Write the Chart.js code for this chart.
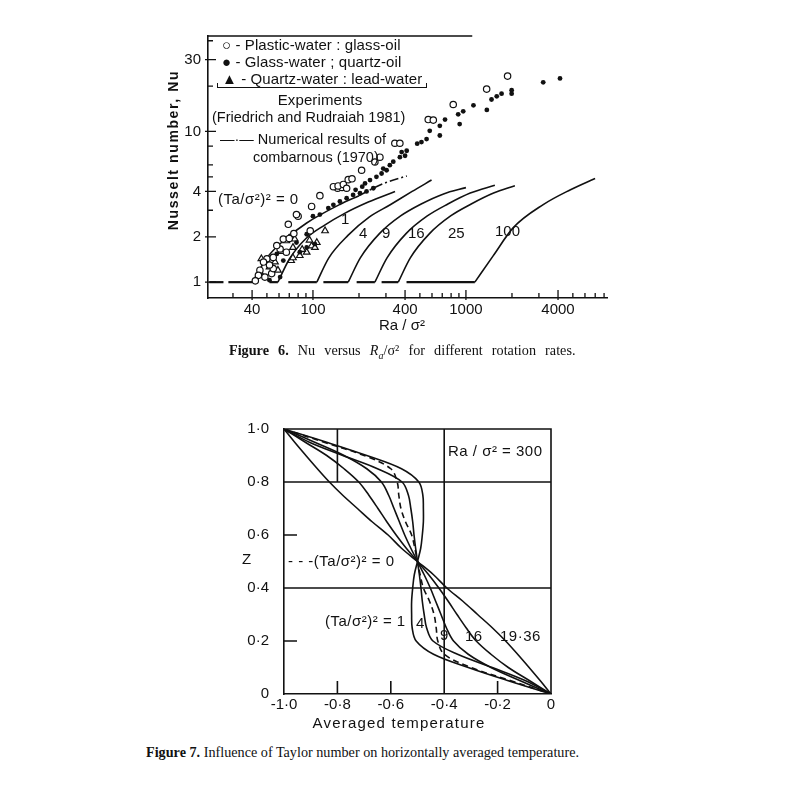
<!DOCTYPE html>
<html>
<head>
<meta charset="utf-8">
<script src="https://cdn.jsdelivr.net/npm/chart.js@4.4.0/dist/chart.umd.min.js"></script>
<style>
  body { margin: 0; width: 792px; height: 785px; background: #fff; position: relative; overflow: hidden; color: #111; font-family: "Liberation Sans", sans-serif; }
  canvas { position: absolute; }
  .t { position: absolute; white-space: nowrap; line-height: 1; font-size: 14px; transform: translateY(-50%); }
  .c { transform: translate(-50%, -50%); }
  .lg { font-size: 15px; letter-spacing: 0.1px; }
  .f7 { font-size: 15px; letter-spacing: 0.5px; }
  .cap { position: absolute; white-space: nowrap; font-family: "Liberation Serif", serif; font-size: 14.2px; line-height: 1; transform: translateY(-50%); }
</style>
</head>
<body>
<canvas id="fig6" width="490" height="320" style="left:130px;top:20px"></canvas>
<canvas id="fig7" width="360" height="330" style="left:230px;top:405px"></canvas>

<!-- Figure 6 texts -->
<div class="t lg" style="left:222px;top:44px">○ - Plastic-water : glass-oil</div>
<div class="t lg" style="left:222px;top:61px">● - Glass-water ; quartz-oil</div>
<div class="t lg" style="left:222px;top:78px">▲ - Quartz-water : lead-water</div>
<div style="position:absolute;left:217px;top:83px;width:208px;height:4px;border:1px solid #111;border-top:none"></div>
<div class="t c lg" style="left:320px;top:99px">Experiments</div>
<div class="t" style="left:212px;top:117px;font-size:14.5px">(Friedrich and Rudraiah 1981)</div>
<div class="t" style="left:220px;top:139px;font-size:14.5px">—·— Numerical results of</div>
<div class="t" style="left:253px;top:157px;font-size:14.5px">combarnous (1970)</div>
<div class="t" style="left:218px;top:198px;font-size:15px;letter-spacing:0.5px">(Ta/σ²)² = 0</div>
<div class="t" style="left:341px;top:218px;font-size:15px">1</div>
<div class="t" style="left:359px;top:232px;font-size:15px">4</div>
<div class="t" style="left:382px;top:232px;font-size:15px">9</div>
<div class="t" style="left:408px;top:232px;font-size:15px">16</div>
<div class="t" style="left:448px;top:232px;font-size:15px">25</div>
<div class="t" style="left:495px;top:230px;font-size:15px">100</div>
<div class="t c" style="left:173px;top:150px;transform:translate(-50%,-50%) rotate(-90deg);font-weight:bold;font-size:14px;letter-spacing:1.6px">Nusselt number, Nu</div>
<div class="t c" style="left:402px;top:324px;font-size:15px">Ra / σ²</div>
<div class="cap" style="left:229px;top:352px;word-spacing:5.6px"><b>Figure 6.</b> Nu versus <i>R<sub style="font-size:10px">a</sub></i>/σ² for different rotation rates.</div>

<!-- Figure 7 texts -->
<div class="t f7" style="left:448px;top:450px">Ra / σ² = 300</div>
<div class="t f7" style="left:242px;top:558px">Z</div>
<div class="t f7" style="left:288px;top:560px">- - -(Ta/σ²)² = 0</div>
<div class="t f7" style="left:325px;top:620px">(Ta/σ²)² = 1</div>
<div class="t f7" style="left:416px;top:622px">4</div>
<div class="t f7" style="left:440px;top:634px">9</div>
<div class="t f7" style="left:465px;top:635px">16</div>
<div class="t f7" style="left:500px;top:635px">19·36</div>
<div class="t c" style="left:399px;top:722px;font-size:15px;letter-spacing:1.2px">Averaged temperature</div>
<div class="cap" style="left:146px;top:752px"><b>Figure 7.</b> Influence of Taylor number on horizontally averaged temperature.</div>

<script>
/* Figura 6: Nu vs Ra/sigma^2 (log-log) */

// puntos experimentales [Ra/σ², Nu]
const plasticWater = [
  [1872,23.3],[1366,19.1],[826,15.1],[567,12.0],[612,11.9],[343,8.35],[370,8.35],
  [254,6.27],[274,6.75],[208,5.53],[170,4.79],[180,4.85],[145,4.2],[155,4.25],
  [136,4.3],[146,4.35],[158,4.45],[166,4.2],[111,3.75],[98,3.18],[80,2.74],[78,2.81],
  [69,2.42],[96,2.19],[64,1.93],[61,1.66],[50,1.43],[47.5,1.36],[45,1.2],[44,1.11],
  [48.5,1.08],[53.7,1.14],[55,1.23],[67,1.58],[55,1.46],[42,1.02],[52,1.3],[58,1.75],
  [70,1.95],[75,2.1]
];
const glassWater = [
  [4120,22.5],[3200,21.2],[1990,18.8],[1990,17.8],[1710,17.8],[1590,17.1],[1470,16.3],
  [1370,13.9],[1120,14.9],[960,13.6],[890,13.0],[910,11.2],[730,12.0],[675,10.9],
  [675,9.4],[580,10.1],[553,8.9],[512,8.5],[480,8.3],[410,7.45],[400,6.9],[380,7.3],
  [370,6.75],[335,6.3],[318,5.97],[303,5.53],[288,5.67],[281,5.26],[260,5.0],[236,4.76],
  [219,4.52],[248,4.2],[224,4.0],[203,3.89],[183,3.79],[166,3.61],[150,3.43],[136,3.26],
  [126,3.1],[111,2.81],[100,2.74],[91,2.08],[78,1.83],[71,2.03],[58,1.54],[64,1.39],
  [55,1.26],[52,1.03],[61,1.08],[82,1.58],[91,1.7],[103,1.79],[190,4.1],[210,4.3]
];
const quartzWater = [
  [120,2.19],[72,1.39],[74,1.45],[82,1.5],[91,1.58],[98,1.74],[106,1.83],[103,1.7],
  [46,1.43],[50,1.39],[56.5,1.36],[52,1.26],[59,1.2],[45,1.17],[67,1.88],[76,1.93],
  [74,1.7],[85,1.65],[62,1.6],[95,1.9]
];

// curvas numericas, (Ta/σ²)² = 0,1,4,9,16,25,100
const ta0Ra = [40, 42, 50, 64, 91, 150, 200];
const ta0Nu = [1, 1.08, 1.45, 1.88, 2.47, 3.28, 3.75];
const combRa = [200, 287, 411];
const combNu = [3.75, 4.5, 5.07];
const ta1Ra = [59, 70, 90, 120, 160, 230, 344];
const ta1Nu = [1, 1.42, 1.95, 2.4, 2.85, 3.4, 4.0];
const ta4Ra = [106, 127, 170, 233, 318, 445, 596];
const ta4Nu = [1, 1.45, 2.05, 2.7, 3.25, 4.0, 4.76];
const ta9Ra = [170, 204, 272, 374, 510, 714, 1000];
const ta9Nu = [1, 1.45, 2.1, 2.75, 3.3, 3.85, 4.24];
const ta16Ra = [254, 305, 406, 559, 762, 1067, 1546];
const ta16Nu = [1, 1.45, 2.1, 2.75, 3.3, 3.9, 4.4];
const ta25Ra = [361, 433, 578, 794, 1083, 1516, 2090];
const ta25Nu = [1, 1.45, 2.1, 2.75, 3.3, 3.9, 4.37];
const ta100Ra = [1144, 1510, 2040, 3200, 4790, 6990];
const ta100Nu = [1, 1.5, 2.3, 3.27, 4.09, 4.88];
// tramos Nu = 1 (conduccion)
const condSegs = [[21, 26], [28, 40], [52, 59], [69, 106], [117, 170], [193, 254], [281, 361], [409, 1144]];

const xTicks6 = [40, 100, 400, 1000, 4000];
const yTicks6 = [1, 2, 4, 10, 30];
const xMinor6 = [30, 50, 60, 70, 80, 90, 200, 300, 500, 600, 700, 800, 900, 2000, 3000, 5000, 6000, 7000, 8000];
const yMinor6 = [3, 5, 6, 8, 20, 40];

function pts(xs, ys) {
  return xs.map((v, i) => ({ x: v, y: ys[i] }));
}
function curve(xs, ys, dash) {
  return {
    type: 'line', data: pts(xs, ys), borderColor: '#111', borderWidth: 1.6,
    pointRadius: 0, cubicInterpolationMode: 'monotone', borderDash: dash || []
  };
}

const datasets6 = [
  { data: plasticWater.map(p => ({ x: p[0], y: p[1] })), pointStyle: 'circle', pointRadius: 3.2,
    backgroundColor: '#fff', borderColor: '#111', borderWidth: 1.2 },
  { data: glassWater.map(p => ({ x: p[0], y: p[1] })), pointStyle: 'circle', pointRadius: 2.4,
    backgroundColor: '#111', borderColor: '#111', borderWidth: 0 },
  { data: quartzWater.map(p => ({ x: p[0], y: p[1] })), pointStyle: 'triangle', pointRadius: 3.8,
    backgroundColor: '#fff', borderColor: '#111', borderWidth: 1.2 },
  curve(ta0Ra, ta0Nu),
  curve(combRa, combNu, [9, 3, 2, 3]),
  curve(ta1Ra, ta1Nu),
  curve(ta4Ra, ta4Nu),
  curve(ta9Ra, ta9Nu),
  curve(ta16Ra, ta16Nu),
  curve(ta25Ra, ta25Nu),
  curve(ta100Ra, ta100Nu)
];
condSegs.forEach(s => {
  datasets6.push({ type: 'line', data: [{ x: s[0], y: 1 }, { x: s[1], y: 1 }], borderColor: '#111',
    borderWidth: 2.2, pointRadius: 0 });
});

const ticks6 = {
  id: 'ticks6',
  afterDraw(chart) {
    const { ctx, chartArea: a, scales: { x, y } } = chart;
    ctx.save();
    ctx.strokeStyle = '#111';
    ctx.lineWidth = 1.3;
    ctx.beginPath();
    xMinor6.forEach(v => { const p = x.getPixelForValue(v); ctx.moveTo(p, a.bottom); ctx.lineTo(p, a.bottom - 5); });
    xTicks6.forEach(v => { const p = x.getPixelForValue(v); ctx.moveTo(p, a.bottom + 2); ctx.lineTo(p, a.bottom - 8); });
    yMinor6.forEach(v => { const p = y.getPixelForValue(v); ctx.moveTo(a.left, p); ctx.lineTo(a.left + 5, p); });
    yTicks6.forEach(v => { const p = y.getPixelForValue(v); ctx.moveTo(a.left - 3, p); ctx.lineTo(a.left + 8, p); });
    // linea superior del recuadro de leyenda
    ctx.moveTo(a.left, a.top);
    ctx.lineTo(x.getPixelForValue(1100), a.top);
    ctx.stroke();
    ctx.restore();
  }
};

Chart.defaults.font.family = 'Liberation Sans';
Chart.defaults.color = '#111';

const noGrid = { display: false, drawTicks: false, tickLength: 0 };

new Chart(document.getElementById('fig6'), {
  type: 'scatter',
  data: { datasets: datasets6 },
  options: {
    responsive: false,
    animation: false,
    layout: { padding: { left: 0, right: 13, top: 12, bottom: 0 } },
    plugins: { legend: { display: false }, tooltip: { enabled: false } },
    scales: {
      x: {
        type: 'logarithmic', min: 20.6, max: 8360,
        grid: noGrid,
        border: { display: true, color: '#111', width: 1.6 },
        afterBuildTicks: s => { s.ticks = xTicks6.map(v => ({ value: v })); },
        afterFit: s => { s.height = 42; },
        ticks: { autoSkip: false, maxRotation: 0, padding: 3, font: { size: 15 }, callback: v => String(v) }
      },
      y: {
        type: 'logarithmic', min: 0.785, max: 43,
        grid: noGrid,
        border: { display: true, color: '#111', width: 1.6 },
        afterBuildTicks: s => { s.ticks = yTicks6.map(v => ({ value: v })); },
        afterFit: s => { s.width = 78; },
        ticks: { autoSkip: false, padding: 7, font: { size: 15 }, callback: v => String(v) }
      }
    }
  },
  plugins: [ticks6]
});

/* Figura 7: temperatura promedio vs Z, Ra/σ² = 300 */
const zLevels = [1, 0.95, 0.9, 0.85, 0.8, 0.75, 0.7, 0.65, 0.6, 0.55, 0.5, 0.45, 0.4, 0.35, 0.3, 0.25, 0.2, 0.15, 0.1, 0.05, 0];
const tempTa0 = [-1, -0.85, -0.7, -0.6, -0.576, -0.57, -0.562, -0.545, -0.522, -0.51, -0.5, -0.49, -0.478, -0.455, -0.438, -0.43, -0.424, -0.4, -0.3, -0.15, 0];
const tempTa1 = [-1, -0.84, -0.69, -0.56, -0.495, -0.48, -0.478, -0.478, -0.482, -0.488, -0.5, -0.512, -0.518, -0.522, -0.522, -0.52, -0.505, -0.44, -0.31, -0.16, 0];
const tempTa4 = [-1, -0.905, -0.78, -0.65, -0.558, -0.534, -0.525, -0.518, -0.513, -0.507, -0.5, -0.493, -0.487, -0.482, -0.475, -0.466, -0.442, -0.35, -0.22, -0.095, 0];
const tempTa9 = [-1, -0.885, -0.775, -0.69, -0.635, -0.608, -0.588, -0.568, -0.548, -0.525, -0.5, -0.475, -0.452, -0.432, -0.412, -0.392, -0.365, -0.31, -0.225, -0.115, 0];
const tempTa16 = [-1, -0.92, -0.84, -0.775, -0.72, -0.682, -0.648, -0.615, -0.58, -0.542, -0.5, -0.458, -0.42, -0.385, -0.352, -0.318, -0.28, -0.225, -0.16, -0.08, 0];
const tempTa1936 = [-1, -0.96, -0.918, -0.875, -0.83, -0.78, -0.725, -0.67, -0.61, -0.56, -0.5, -0.44, -0.39, -0.33, -0.275, -0.22, -0.17, -0.125, -0.082, -0.04, 0];

const xTicks7 = [-1, -0.8, -0.6, -0.4, -0.2, 0];
const yTicks7 = [0, 0.2, 0.4, 0.6, 0.8, 1];

function profile(ts, dash) {
  return {
    data: ts.map((t, i) => ({ x: t, y: zLevels[i] })), showLine: true, tension: 0.35,
    borderColor: '#111', borderWidth: 1.6, pointRadius: 0, borderDash: dash || []
  };
}

const frame7 = {
  id: 'frame7',
  afterDraw(chart) {
    const { ctx, chartArea: a, scales: { x, y } } = chart;
    ctx.save();
    ctx.strokeStyle = '#111';
    ctx.lineWidth = 1.6;
    ctx.beginPath();
    ctx.moveTo(a.left, a.top); ctx.lineTo(a.right, a.top); ctx.lineTo(a.right, a.bottom);
    [0.8, 0.4].forEach(v => { const p = y.getPixelForValue(v); ctx.moveTo(a.left, p); ctx.lineTo(a.right, p); });
    const p4 = x.getPixelForValue(-0.4);
    ctx.moveTo(p4, a.top); ctx.lineTo(p4, a.bottom);
    const p8 = x.getPixelForValue(-0.8);
    ctx.moveTo(p8, a.top); ctx.lineTo(p8, y.getPixelForValue(0.8));
    [-0.8, -0.6, -0.2].forEach(v => { const p = x.getPixelForValue(v); ctx.moveTo(p, a.bottom); ctx.lineTo(p, a.bottom - 13); });
    [0.6, 0.2].forEach(v => { const p = y.getPixelForValue(v); ctx.moveTo(a.left, p); ctx.lineTo(a.left + 13, p); });
    ctx.stroke();
    ctx.restore();
  }
};

const fmt7 = v => (v === 0 ? '0' : v.toFixed(1).replace('.', '·'));

new Chart(document.getElementById('fig7'), {
  type: 'scatter',
  data: {
    datasets: [
      profile(tempTa0, [6, 4]),
      profile(tempTa1),
      profile(tempTa4),
      profile(tempTa9),
      profile(tempTa16),
      profile(tempTa1936)
    ]
  },
  options: {
    responsive: false,
    animation: false,
    layout: { padding: { left: 0, right: 39, top: 17, bottom: 0 } },
    plugins: { legend: { display: false }, tooltip: { enabled: false } },
    scales: {
      x: {
        type: 'linear', min: -1, max: 0,
        grid: noGrid,
        border: { display: true, color: '#111', width: 1.6 },
        afterBuildTicks: s => { s.ticks = xTicks7.map(v => ({ value: v })); },
        afterFit: s => { s.height = 41; },
        ticks: { autoSkip: false, maxRotation: 0, padding: 2, font: { size: 15 }, callback: fmt7 }
      },
      y: {
        type: 'linear', min: 0, max: 1,
        grid: noGrid,
        border: { display: true, color: '#111', width: 1.6 },
        afterBuildTicks: s => { s.ticks = yTicks7.map(v => ({ value: v })); },
        afterFit: s => { s.width = 54; },
        ticks: { autoSkip: false, padding: 15, font: { size: 15 }, callback: fmt7 }
      }
    }
  },
  plugins: [frame7]
});
</script>
</body>
</html>
